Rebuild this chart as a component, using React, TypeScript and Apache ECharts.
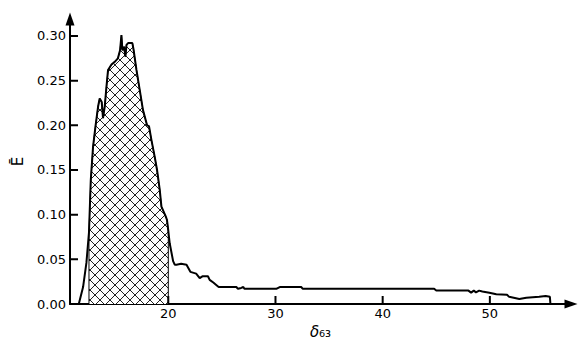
import React, { useEffect, useRef } from "react";
import * as echarts from "echarts";

const deltaValues: number[] = [
  11.65, 12.05, 12.36, 12.6, 12.77, 12.98, 13.21, 13.45, 13.6, 13.79, 13.91, 14.07, 14.23, 14.38,
  14.7, 15.0, 15.3, 15.5, 15.63, 15.72, 15.87, 16.0, 16.1, 16.25, 16.65, 16.77, 17.03, 17.33,
  17.64, 18.02, 18.2, 18.42, 18.73, 18.95, 19.2, 19.36, 19.76, 19.88, 20.0, 20.13, 20.45, 20.6,
  20.76, 21.2, 21.7, 22.06, 22.6, 22.93, 23.18, 23.7, 23.86, 24.2, 24.5, 24.7, 26.35, 26.5,
  26.8, 27.0, 27.1, 30.07, 30.4, 32.4, 32.55, 44.8, 45.0, 48.0, 48.25, 48.5, 48.7, 49.0, 49.3,
  49.95, 50.6, 51.6, 51.8, 52.75, 53.4, 54.6, 55.2, 55.6, 55.65,
];

const energyValues: number[] = [
  0, 0.019, 0.046, 0.08, 0.139, 0.176, 0.199, 0.221, 0.23, 0.226, 0.208, 0.221, 0.243, 0.262,
  0.268, 0.271, 0.275, 0.284, 0.301, 0.284, 0.288, 0.277, 0.29, 0.292, 0.292, 0.284, 0.262, 0.24,
  0.217, 0.2, 0.199, 0.184, 0.165, 0.15, 0.128, 0.109, 0.098, 0.094, 0.082, 0.068, 0.048, 0.044,
  0.044, 0.045, 0.044, 0.036, 0.034, 0.029, 0.031, 0.031, 0.027, 0.024, 0.021, 0.019, 0.019, 0.017,
  0.018, 0.019, 0.017, 0.017, 0.019, 0.019, 0.017, 0.017, 0.015, 0.015, 0.0127, 0.015, 0.013, 0.015, 0.014,
  0.0127, 0.011, 0.0104, 0.008, 0.0056, 0.007, 0.008, 0.009, 0.008, 0,
];

const hatchStart = 12.6;
const hatchEnd = 20.0;

const xMin = 10.83;
const xMax = 57.57;
const yMin = 0;
const yMax = 0.319;

const xTicks: number[] = [20, 30, 40, 50];
const yTicks: number[] = [0, 0.05, 0.1, 0.15, 0.2, 0.25, 0.3];

function makeHatch(): HTMLCanvasElement {
  const size = 10;
  const c = document.createElement("canvas");
  c.width = size;
  c.height = size;
  const ctx = c.getContext("2d")!;
  ctx.fillStyle = "#ffffff";
  ctx.fillRect(0, 0, size, size);
  ctx.strokeStyle = "#222222";
  ctx.lineWidth = 1;
  ctx.beginPath();
  ctx.moveTo(0, 0);
  ctx.lineTo(size, size);
  ctx.moveTo(0, size);
  ctx.lineTo(size, 0);
  ctx.moveTo(-1, 1);
  ctx.lineTo(1, -1);
  ctx.moveTo(size - 1, size + 1);
  ctx.lineTo(size + 1, size - 1);
  ctx.stroke();
  return c;
}

export default function App() {
  const ref = useRef<HTMLDivElement>(null);
  useEffect(() => {
    if (!ref.current) return;
    const chart = echarts.init(ref.current, undefined, { renderer: "svg" });
    const mainData = deltaValues.map((x, i) => [x, energyValues[i]]);
    const inside = mainData.filter((p) => p[0] >= hatchStart && p[0] <= hatchEnd);
    const hatchData = [[hatchStart, 0], ...inside, [hatchEnd, 0]];
    const font = "DejaVu Sans";

    const W = 579;
    const H = 340;
    const gl = 70;
    const gr = 8;
    const gt = 19;
    const gb = 36;
    const tickPx = 8;
    const yPerPx = (yMax - yMin) / (H - gt - gb);
    const xPerPx = (xMax - xMin) / (W - gl - gr);

    // all ticks in one broken polyline so the path is one large element
    const tickData: any[] = [];
    xTicks.forEach((v) => {
      tickData.push([v, yMin], [v, yMin + tickPx * yPerPx], ["-", "-"]);
    });
    yTicks.forEach((v) => {
      tickData.push([xMin, v], [xMin + tickPx * xPerPx, v], ["-", "-"]);
    });

    chart.setOption({
      animation: false,
      grid: { left: gl, right: gr, top: gt, bottom: gb, outerBoundsMode: "none", containLabel: false },
      xAxis: {
        type: "value",
        min: xMin,
        max: xMax,
        name: "{d|δ}{s|₆₃}",
        nameLocation: "middle",
        nameGap: 17,
        nameTextStyle: {
          lineHeight: 15,
          rich: {
            d: { fontFamily: font, fontSize: 15, fontStyle: "italic", color: "#000", lineHeight: 15 },
            s: { fontFamily: font, fontSize: 15, color: "#000", lineHeight: 15 },
          },
        },
        splitLine: { show: false },
        axisLine: {
          show: true,
          onZero: false,
          symbol: ["none", "triangle"],
          symbolSize: [9, 13],
          lineStyle: { color: "#000", width: 2 },
        },
        axisTick: { show: false },
        axisLabel: {
          customValues: xTicks,
          color: "#000",
          fontFamily: font,
          fontSize: 13,
          margin: 3,
        },
      },
      yAxis: {
        type: "value",
        min: yMin,
        max: yMax,
        name: "Ē",
        nameLocation: "middle",
        nameRotate: 90,
        nameGap: 45,
        nameTextStyle: { fontFamily: font, fontSize: 15, color: "#000" },
        splitLine: { show: false },
        axisLine: {
          show: true,
          symbol: ["none", "triangle"],
          symbolSize: [9, 13],
          lineStyle: { color: "#000", width: 2 },
        },
        axisTick: { show: false },
        axisLabel: {
          customValues: yTicks,
          color: "#000",
          fontFamily: font,
          fontSize: 13,
          margin: 4,
          formatter: (v: number) => v.toFixed(2),
        },
      },
      series: [
        {
          type: "line",
          data: hatchData,
          symbol: "none",
          silent: true,
          z: 1,
          lineStyle: { color: "#000", width: 1 },
          areaStyle: {
            color: { image: makeHatch(), repeat: "repeat" },
            opacity: 1,
          },
        },
        {
          type: "line",
          data: mainData,
          symbol: "none",
          silent: true,
          z: 2,
          lineStyle: { color: "#000", width: 2 },
        },
        {
          type: "line",
          data: tickData,
          symbol: "none",
          silent: true,
          clip: false,
          connectNulls: false,
          z: 4,
          lineStyle: { color: "#000", width: 2 },
        },
      ],
    });

    return () => chart.dispose();
  }, []);
  return (
    <div
      ref={ref}
      style={{ position: "fixed", left: 0, top: 0, width: 579, height: 340, background: "#fff" }}
    />
  );
}
